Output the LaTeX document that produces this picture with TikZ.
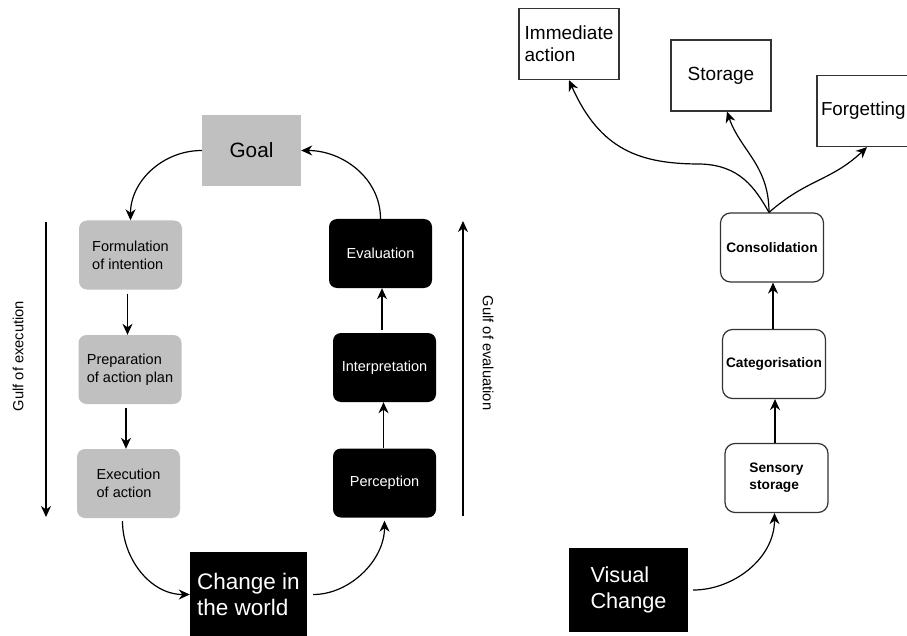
\documentclass[tikz,border=0pt]{standalone}
\usepackage{fontspec}
\setmainfont{Liberation Sans}
\usetikzlibrary{arrows.meta}
\definecolor{boxgray}{HTML}{C0C0C0}
\definecolor{linegray}{HTML}{333333}
\begin{document}
\begin{tikzpicture}[x=1pt,y=1pt,
  graybox/.style={fill=boxgray,rounded corners=8pt,minimum width=103pt,minimum height=69pt,inner sep=0pt,align=left,font=\fontsize{14.5}{18}\selectfont},
  blackbox/.style={fill=black,text=white,rounded corners=8pt,minimum width=103pt,minimum height=69pt,inner sep=0pt,font=\fontsize{14.5}{18}\selectfont},
  whitebox/.style={draw=linegray,line width=1.2pt,rounded corners=10pt,minimum width=103pt,minimum height=69pt,inner sep=0pt,align=left,font=\bfseries\fontsize{13.7}{17}\selectfont},
  outbox/.style={draw=linegray,line width=1.2pt,minimum width=100pt,minimum height=71pt,inner sep=0pt,align=left,font=\fontsize{19}{22}\selectfont},
  flow/.style={line width=1.2pt,-{Stealth[length=11pt,width=10pt,inset=3.5pt]}},
  gulf/.style={font=\fontsize{14.7}{17}\selectfont}]
\useasboundingbox (0,0) rectangle (907,-636);
\node[fill=boxgray,minimum width=99pt,minimum height=71pt,font=\fontsize{20.7}{24}\selectfont] (goal) at (251.5,-150.5) {Goal};
\node[graybox] (form) at (130.5,-255) {Formulation\\of intention};
\node[graybox] (prep) at (130,-369.5) {Preparation\\of action plan};
\node[graybox] (exec) at (128.5,-483.5) {Execution\\of action};
\node[blackbox] (eval) at (380.5,-253.5) {Evaluation};
\node[blackbox] (interp) at (384.5,-367.5) {Interpretation};
\node[blackbox] (perc) at (384.5,-483) {Perception};
\node[fill=black,text=white,minimum width=117pt,minimum height=85pt,inner sep=0pt,align=left,font=\fontsize{22.5}{26}\selectfont] (world) at (248.5,-594.5) {Change in\\the world};
\coordinate (exetop) at (46,-222);
\coordinate (exebot) at (46,-517);
\draw[flow] (exetop) -- (exebot);
\node[gulf,rotate=90] (exelabel) at (18,-356) {Gulf of execution};
\coordinate (evabot) at (463,-516);
\coordinate (evatop) at (463,-221);
\draw[flow] (evabot) -- (evatop);
\node[gulf,rotate=-90] (evalabel) at (488,-353) {Gulf of evaluation};
\draw[flow] (goal.west) to[out=180,in=90] (form.north);
\draw[flow,shorten <=4pt] ([xshift=-3pt]form.south) -- ([xshift=-3pt]form.south |- prep.north);
\draw[flow,shorten <=4pt] ([xshift=-4pt]prep.south) -- ([xshift=-4pt]prep.south |- exec.north);
\draw[flow,shorten <=3pt] ([xshift=-6pt]exec.south) to[out=-90,in=180] (world.west);
\draw[flow,shorten <=6pt,shorten >=3pt] (world.east) to[out=0,in=-90] (perc.south);
\draw[flow] ([xshift=-1pt]perc.north) -- ([xshift=-1pt]perc.north |- interp.south);
\draw[flow,shorten <=3pt] ([xshift=-2.5pt]interp.north) -- ([xshift=-2.5pt]interp.north |- eval.south);
\draw[flow] (eval.north) to[out=90,in=0] (goal.east);
\node[fill=black,text=white,minimum width=119pt,minimum height=84pt,inner sep=0pt,align=left,font=\fontsize{21.7}{26.5}\selectfont] (vis) at (628.5,-590) {Visual\\Change};
\node[whitebox] (sens) at (776.5,-478) {Sensory\\storage};
\node[whitebox] (cat) at (774,-364) {Categorisation};
\node[whitebox] (cons) at (772,-247.5) {Consolidation};
\node[outbox] (imm) at (569,-44) {Immediate\\action};
\node[outbox] (stor) at (721,-75.5) {Storage};
\node[outbox,text width=92pt,font=\fontsize{18.8}{22}\selectfont] (forg) at (867,-111) {Forgetting};
\draw[flow,shorten <=5pt] (vis.east) to[out=0,in=-90] ([xshift=-2pt]sens.south);
\draw[flow] ([xshift=-1.5pt]sens.north) -- ([xshift=-1.5pt]sens.north |- cat.south);
\draw[flow] ([xshift=-1pt]cat.north) -- ([xshift=-1pt]cat.north |- cons.south);
\coordinate (split) at ([xshift=-3pt]cons.north);
\draw[flow] (split) .. controls (755,-188) and (740,-165) .. (700,-164) .. controls (640,-164) and (600,-150) .. (imm.south);
\draw[flow] (split) .. controls (769,-165) and (740,-150) .. ([xshift=6pt]stor.south);
\draw[flow] (split) .. controls (807,-179) and (831,-181) .. (forg.south);
\end{tikzpicture}
\end{document}
